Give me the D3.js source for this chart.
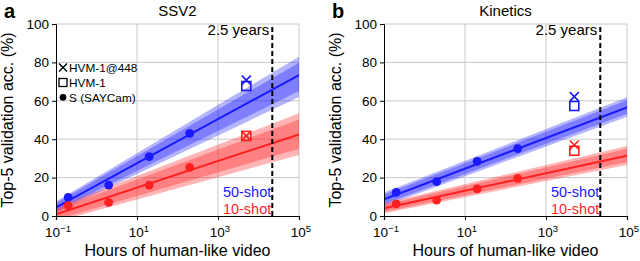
<!DOCTYPE html>
<html>
<head>
<meta charset="UTF-8">
<script src="https://cdn.jsdelivr.net/npm/d3@7"></script>
<style>
body{ margin:0; background:#fff; }
text{ font-family:"Liberation Sans", Arial, sans-serif; }
</style>
</head>
<body>
<script>
// hours of video for the S (SAYCam) subsets, and for HVM-1
var hours = [0.2, 2, 20, 200]
var hvmHours = 5000
var yearsLine = 21900   // 2.5 years in hours

var panels = ["SSV2", "Kinetics"]
var panelLetters = ["a", "b"]

// S (SAYCam) points
var ssv2_50 = [9.7, 16.1, 30.9, 43]
var ssv2_10 = [5.4, 7.1, 16.1, 25.3]
var kin_50 = [12.3, 17.9, 28.5, 35.1]
var kin_10 = [6.3, 8.3, 14.1, 19.6]

// HVM-1 (square) and HVM-1@448 (cross)
var ssv2_hvm = {s50: 67.7, x50: 70.8, s10: 41.7, x10: 41.7}
var kin_hvm = {s50: 57.3, x50: 62.2, s10: 34, x10: 37}

// fitted line at 10^-1 and 10^5, with the band edges [lo, hi]
var ssv2_fit50 = [4.5, 73.4], ssv2_band50 = [[1.8, 7.6], [62, 83]]
var ssv2_fit10 = [0.9, 42.5], ssv2_band10 = [[-3, 4.5], [31.8, 53.5]]
var kin_fit50 = [8.7, 56.6], kin_band50 = [[5.2, 12.2], [51.7, 61.8]]
var kin_fit10 = [4, 31.4], kin_band10 = [[1.4, 6.6], [26.6, 36.5]]

var yTicks = [0, 20, 40, 60, 80, 100]
var xTicks = [0.1, 10, 1000, 100000]
var xTickExp = ["\u22121", "1", "3", "5"]

var blue = "#1a1aff", red = "#ff1f1f"

var width = 640, height = 261
var svg = d3.select("body").append("svg").attr("width", width).attr("height", height)

var data = [
  {p50: ssv2_50, p10: ssv2_10, hvm: ssv2_hvm, f50: ssv2_fit50, b50: ssv2_band50, f10: ssv2_fit10, b10: ssv2_band10},
  {p50: kin_50, p10: kin_10, hvm: kin_hvm, f50: kin_fit50, b50: kin_band50, f10: kin_fit10, b10: kin_band10}
]
var lefts = [56, 384]

data.forEach(function(d, i){
  var x = d3.scaleLog().domain([0.1, 100000]).range([lefts[i], lefts[i] + 243])
  var y = d3.scaleLinear().domain([0, 100]).range([216, 24])
  var g = svg.append("g")

  g.append("clipPath").attr("id", "clip" + i)
    .append("rect").attr("x", x(0.1)).attr("y", y(100)).attr("width", 243).attr("height", 192)

  // grid
  g.selectAll(".gy").data(yTicks.slice(1)).enter().append("line")
    .attr("x1", x(0.1)).attr("x2", x(100000)).attr("y1", y).attr("y2", y)
    .attr("stroke", "#c8c8c8").attr("stroke-width", 1)
  g.selectAll(".gx").data(xTicks.slice(1)).enter().append("line")
    .attr("x1", x).attr("x2", x).attr("y1", y(0)).attr("y2", y(100))
    .attr("stroke", "#c8c8c8").attr("stroke-width", 1)

  var plot = g.append("g").attr("clip-path", "url(#clip" + i + ")")

  // bands + fit lines
  function band(b, col){
    var pts = [[0.1, b[0]], [100000, b[1]]]
    var area = d3.area().x(p => x(p[0])).y0(p => y(p[1][0])).y1(p => y(p[1][1]))
    plot.append("path").attr("d", area(pts)).attr("fill", col).attr("opacity", 0.33)
    // inner band
    var inner = pts.map(p => [p[0], [p[1][0] + (p[1][1]-p[1][0])*0.15, p[1][1] - (p[1][1]-p[1][0])*0.15]])
    plot.append("path").attr("d", area(inner)).attr("fill", col).attr("opacity", 0.35)
  }
  band(d.b50, blue)
  band(d.b10, red)
  var line = d3.line().x(p => x(p[0])).y(p => y(p[1]))
  plot.append("path").attr("d", line([[0.1, d.f50[0]], [100000, d.f50[1]]]))
    .attr("stroke", blue).attr("stroke-width", 2).attr("fill", "none")
  plot.append("path").attr("d", line([[0.1, d.f10[0]], [100000, d.f10[1]]]))
    .attr("stroke", red).attr("stroke-width", 2).attr("fill", "none")

  // S points
  g.selectAll(".c50").data(d.p50).enter().append("circle")
    .attr("cx", (v, j) => x(hours[j])).attr("cy", y).attr("r", 4.4).attr("fill", blue)
  g.selectAll(".c10").data(d.p10).enter().append("circle")
    .attr("cx", (v, j) => x(hours[j])).attr("cy", y).attr("r", 4.4).attr("fill", red)

  // HVM markers
  function square(v, col){
    g.append("rect").attr("x", x(hvmHours) - 4.5).attr("y", y(v) - 4.5).attr("width", 9).attr("height", 9)
      .attr("fill", "none").attr("stroke", col).attr("stroke-width", 1.6)
  }
  function cross(v, col){
    var cx = x(hvmHours), cy = y(v), s = 4.5
    g.append("path").attr("d", "M" + (cx-s) + "," + (cy-s) + "L" + (cx+s) + "," + (cy+s) + "M" + (cx-s) + "," + (cy+s) + "L" + (cx+s) + "," + (cy-s))
      .attr("stroke", col).attr("stroke-width", 1.6).attr("fill", "none")
  }
  square(d.hvm.s50, blue); cross(d.hvm.x50, blue)
  square(d.hvm.s10, red); cross(d.hvm.x10, red)

  // 2.5 years
  g.append("line").attr("x1", x(yearsLine)).attr("x2", x(yearsLine)).attr("y1", y(0)).attr("y2", y(100))
    .attr("stroke", "#000").attr("stroke-width", 2).attr("stroke-dasharray", "5,3")
  g.append("text").attr("x", x(yearsLine) - 3).attr("y", 34.5).attr("text-anchor", "end")
    .attr("font-size", 15).text("2.5 years")

  g.append("text").attr("x", x(yearsLine) - 1).attr("y", 197).attr("text-anchor", "end")
    .attr("font-size", 14.5).attr("fill", blue).text("50-shot")
  g.append("text").attr("x", x(yearsLine) - 1).attr("y", 214).attr("text-anchor", "end")
    .attr("font-size", 14.5).attr("fill", red).text("10-shot")

  // axes
  var ya = g.append("g").attr("transform", "translate(" + x(0.1) + ",0)")
    .call(d3.axisLeft(y).tickValues(yTicks).tickSize(4).tickPadding(3))
  ya.selectAll("text").attr("font-size", 13.5).attr("font-family", "Liberation Sans, Arial, sans-serif").attr("fill", "#000")
  ya.selectAll("line, path").attr("stroke", "#000")

  var xa = g.append("g").attr("transform", "translate(0," + y(0) + ")")
    .call(d3.axisBottom(x).tickValues(xTicks).tickFormat("").tickSize(4))
  xa.selectAll("line, path").attr("stroke", "#000")
  xa.select(".domain").attr("stroke-width", 1.2)
  xTicks.forEach(function(t, j){
    var tx = g.append("text").attr("x", x(t) + 2).attr("y", 237).attr("text-anchor", "middle").attr("font-size", 13.5)
    tx.append("tspan").text("10")
    tx.append("tspan").attr("dy", -5).attr("font-size", 9.5).text(xTickExp[j])
  })

  g.append("text").attr("x", x(0.1) + 121.5).attr("y", 256).attr("text-anchor", "middle")
    .attr("font-size", 16).text("Hours of human-like video")
  g.append("text").attr("transform", "translate(" + (lefts[i] - 43) + ",120) rotate(-90)")
    .attr("text-anchor", "middle").attr("font-size", 16).text("Top-5 validation acc. (%)")
  g.append("text").attr("x", x(0.1) + 121.5).attr("y", 16).attr("text-anchor", "middle")
    .attr("font-size", 15).text(panels[i])
  g.append("text").attr("x", lefts[i] - 52).attr("y", 18).attr("font-size", 20).attr("font-weight", "bold")
    .text(panelLetters[i])
})

// legend in panel a
var leg = svg.append("g").attr("transform", "translate(63,0)")
var labels = ["HVM-1@448", "HVM-1", "S (SAYCam)"]
leg.append("path").attr("d", "M-4,63.5L4,71.5M-4,71.5L4,63.5").attr("stroke", "#000").attr("stroke-width", 1.4)
leg.append("rect").attr("x", -4).attr("y", 78.5).attr("width", 8).attr("height", 8).attr("fill", "none").attr("stroke", "#000").attr("stroke-width", 1.3)
leg.append("circle").attr("cx", 0).attr("cy", 97.3).attr("r", 3.4).attr("fill", "#000")
leg.selectAll(".lt").data(labels).enter().append("text")
  .attr("x", 6).attr("y", (v, j) => 72 + j * 15).attr("font-size", 11.8).text(v => v)
</script>
</body>
</html>
